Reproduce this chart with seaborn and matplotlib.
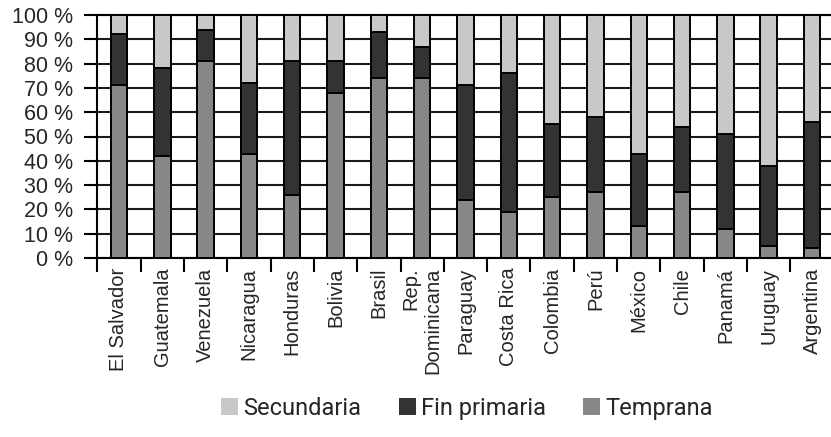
import numpy as np
import pandas as pd
import matplotlib
matplotlib.use("Agg")
import matplotlib.pyplot as plt
from matplotlib.patches import Patch
from matplotlib.ticker import FixedLocator
import seaborn as sns

countries = ["El Salvador", "Guatemala", "Venezuela", "Nicaragua", "Honduras",
             "Bolivia", "Brasil", "Rep.\nDominicana", "Paraguay", "Costa Rica",
             "Colombia", "Perú", "México", "Chile", "Panamá", "Uruguay", "Argentina"]
temprana = [71, 42, 81, 43, 26, 68, 74, 74, 24, 19, 25, 27, 13, 27, 12, 5, 4]
fin_primaria = [21, 36, 13, 29, 55, 13, 19, 13, 47, 57, 30, 31, 30, 27, 39, 33, 52]
secundaria = [8, 22, 6, 28, 19, 19, 7, 13, 29, 24, 45, 42, 57, 46, 49, 62, 44]
series_names = ["Secundaria", "Fin primaria", "Temprana"]
colors = {"Secundaria": "#c8c8c8", "Fin primaria": "#333333", "Temprana": "#878787"}
ytick_vals = list(range(0, 101, 10))
ytick_labels = [f"{v} %" for v in ytick_vals]

sns.set_style("white")
plt.rcParams["font.family"] = ["Liberation Sans", "DejaVu Sans"]

df = pd.DataFrame({"country": countries, "Temprana": temprana,
                   "Fin primaria": fin_primaria, "Secundaria": secundaria})
df["top_tem"] = df["Temprana"]
df["top_fp"] = df["Temprana"] + df["Fin primaria"]
df["top_sec"] = df["top_fp"] + df["Secundaria"]

fig = plt.figure(figsize=(8.31, 4.37), dpi=100)
ax = fig.add_axes([97.3 / 831, 1 - 258 / 437, (833.7 - 97.3) / 831, (258 - 15) / 437])

for ycol, name in [("top_sec", "Secundaria"), ("top_fp", "Fin primaria"), ("top_tem", "Temprana")]:
    sns.barplot(data=df, x="country", y=ycol, order=countries, color=colors[name],
                saturation=1, width=0.38, edgecolor="black", linewidth=1.4,
                ax=ax, zorder=3, err_kws={"linewidth": 0})

ax.set_xlim(-0.5, len(countries) - 0.5)
ax.set_ylim(0, 100)
ax.set_yticks(ytick_vals)
ax.set_yticklabels(ytick_labels, fontsize=15.5)
ax.yaxis.grid(True, color="#1a1a1a", linewidth=1.5, zorder=0)
ax.xaxis.grid(False)
ax.set_axisbelow(True)
ax.set_xlabel("")
ax.set_ylabel("")

ax.tick_params(axis="y", length=9.5, width=1.5, color="black", pad=8, direction="out", left=True)
ax.tick_params(axis="x", which="major", length=0, pad=7)
ax.xaxis.set_minor_locator(FixedLocator(np.arange(-0.5, len(countries), 1.0)))
ax.tick_params(axis="x", which="minor", length=10, width=1.5, color="black", direction="out", bottom=True)
for lbl in ax.get_xticklabels():
    lbl.set_rotation(90)
    lbl.set_fontsize(14.5)
    lbl.set_multialignment("right")
    lbl.set_va("top")
    lbl.set_ha("center")

for s in ["left", "bottom", "top", "right"]:
    ax.spines[s].set_visible(True)
    ax.spines[s].set_color("black")
    ax.spines[s].set_linewidth(1.5)

handles = [Patch(facecolor=colors[n], edgecolor="none", label=n) for n in series_names]
fig.legend(handles=handles, loc="center", bbox_to_anchor=(0.562, 0.066), ncol=3,
           frameon=False, prop={"family": ["Roboto", "DejaVu Sans"], "size": 17},
           handlelength=0.72, handleheight=0.72, handletextpad=0.2, columnspacing=1.6)

fig.savefig("out.png", dpi=100)
